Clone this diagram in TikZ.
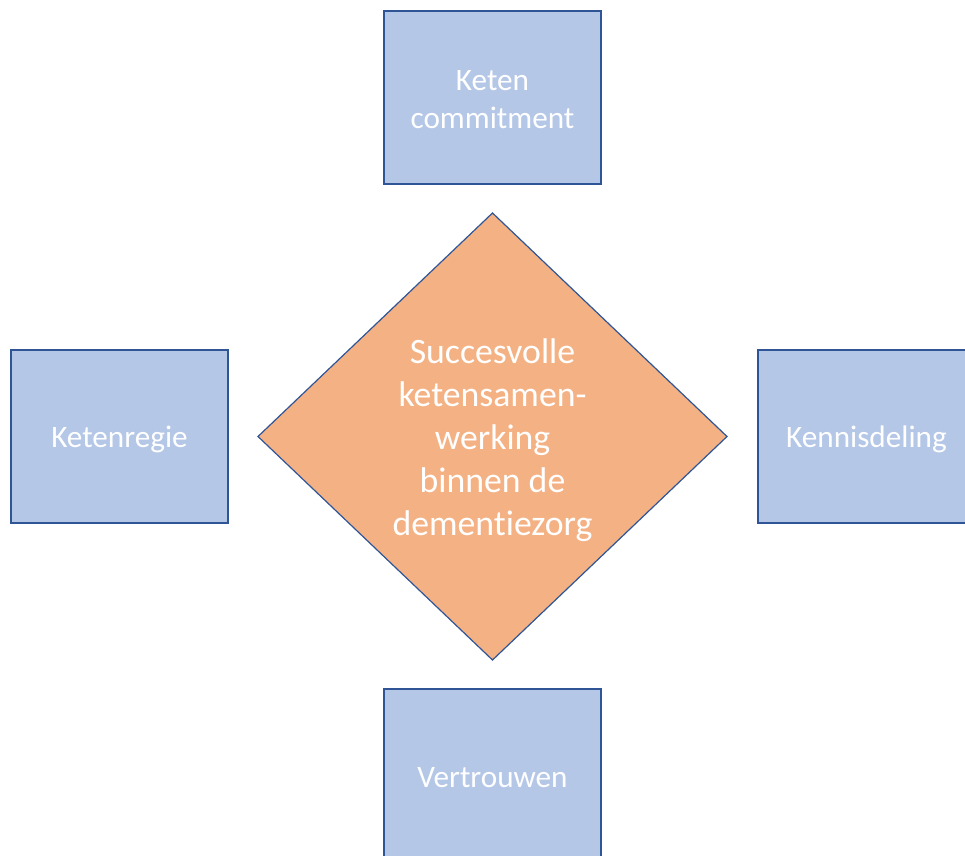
\documentclass[tikz,border=0pt]{standalone}
\usepackage{fontspec}
\setmainfont{Carlito}[Ligatures=NoCommon]
% lower a label slightly inside its box, keeping its nominal size
\newcommand{\droplabel}[1]{\raisebox{-3pt}[\height][\depth]{\begin{tabular}{@{}c@{}}#1\end{tabular}}}
\begin{document}
\begin{tikzpicture}[x=0.75pt,y=-0.75pt,
  pillar/.style={draw=boxline,line width=1.5pt,fill=boxfill,text=white,
    minimum width=162.75pt,minimum height=129.75pt,inner sep=0pt,
    align=center,font=\fontsize{23.4}{28.5}\selectfont},
  core/.style={draw=boxline,line width=0.9pt,fill=corefill}]
\definecolor{boxfill}{HTML}{B4C7E7}
\definecolor{boxline}{HTML}{2F5597}
\definecolor{corefill}{HTML}{F4B183}
\useasboundingbox (0,0) rectangle (965,856);
% central diamond
\coordinate (dt) at (492.5,213);
\coordinate (dr) at (727,436.5);
\coordinate (db) at (492.5,660);
\coordinate (dl) at (258,436.5);
\draw[core] (dt) -- (dr) -- (db) -- (dl) -- cycle;
\node[text=white,align=center,font=\fontsize{26.8}{32.25}\selectfont] (core) at (492.5,440)
  {Succesvolle\\ketensamen-\\werking\\binnen de\\dementiezorg};
% four surrounding boxes
\node[pillar] (top) at (492.5,97.5) {\droplabel{Keten\\commitment}};
\node[pillar] (left) at (119.5,436) {\droplabel{Ketenregie}};
\node[pillar] (right) at (866.5,436) {\droplabel{Kennisdeling}};
\node[pillar] (bottom) at (492.5,775.5) {\droplabel{Vertrouwen}};
\end{tikzpicture}
\end{document}
